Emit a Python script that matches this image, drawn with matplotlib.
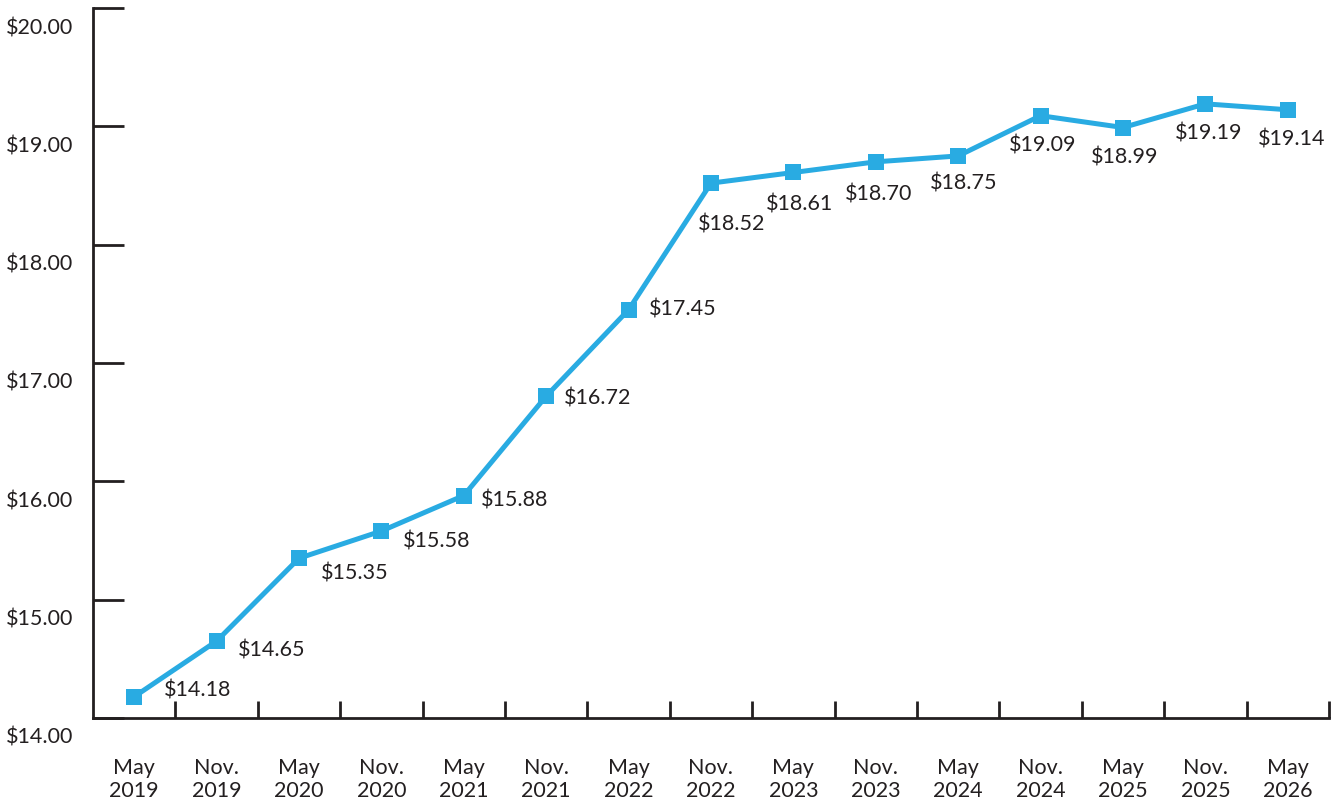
import matplotlib
matplotlib.use("Agg")
import matplotlib.pyplot as plt
import matplotlib.transforms as mtransforms

periods = ["May\n2019", "Nov.\n2019", "May\n2020", "Nov.\n2020", "May\n2021",
           "Nov.\n2021", "May\n2022", "Nov.\n2022", "May\n2023", "Nov.\n2023",
           "May\n2024", "Nov.\n2024", "May\n2025", "Nov.\n2025", "May\n2026"]
wages = [14.18, 14.65, 15.35, 15.58, 15.88, 16.72, 17.45, 18.52, 18.61, 18.70,
         18.75, 19.09, 18.99, 19.19, 19.14]
ytick_vals = [14, 15, 16, 17, 18, 19, 20]
ytick_labels = ["$14.00", "$15.00", "$16.00", "$17.00", "$18.00", "$19.00", "$20.00"]

# label offsets in pixels (dx, dy) and alignment
label_offsets = [(30, 7, 'left'), (21, -8, 'left'), (22, -14, 'left'), (22, -9, 'left'),
                 (17, -4, 'left'), (18, -1, 'left'), (20, 1, 'left'),
                 (21, -40, 'center'), (6, -31, 'center'), (3, -32, 'center'),
                 (5, -27, 'center'), (2, -29, 'center'), (2, -29, 'center'),
                 (3, -29, 'center'), (4, -29, 'center')]

plt.rcParams['font.family'] = ['Lato', 'DejaVu Sans']
TXT = '#231f20'
BLUE = '#29abe2'

fig = plt.figure(figsize=(13.38, 8.04), dpi=100)
ax = fig.add_axes([93/1338, 1 - 719/804, (1329 - 93)/1338, (719 - 9)/804])

xs = [i + 0.5 for i in range(len(wages))]
ax.plot(xs, wages, color=BLUE, lw=3.6, marker='s', markersize=11,
        markeredgewidth=0, markerfacecolor=BLUE, zorder=3, clip_on=False)

for x, v, (dx, dy, ha) in zip(xs, wages, label_offsets):
    ax.annotate(f"${v:.2f}", (x, v), xytext=(dx, dy), textcoords='offset pixels',
                ha=ha, va='center', fontsize=15.5, color=TXT)

ax.set_xlim(0, len(wages))
ax.set_ylim(14, 20)

for side in ['top', 'right']:
    ax.spines[side].set_visible(False)
for side in ['left', 'bottom']:
    ax.spines[side].set_color(TXT)
    ax.spines[side].set_linewidth(2)

ax.set_yticks(ytick_vals)
ax.set_yticklabels(ytick_labels)
ax.tick_params(axis='y', direction='in', length=22, width=2, color=TXT,
               labelsize=15.5, labelcolor=TXT, pad=14)
offset = mtransforms.ScaledTranslation(0, -17/100, fig.dpi_scale_trans)
for lab in ax.get_yticklabels():
    lab.set_transform(lab.get_transform() + offset)

ax.set_xticks(xs)
ax.set_xticklabels(periods, linespacing=1.2)
ax.set_xticks(range(1, len(wages) + 1), minor=True)
ax.tick_params(axis='x', which='major', length=0, labelsize=15.5, labelcolor=TXT, pad=28)
ax.tick_params(axis='x', which='minor', direction='in', length=12, width=2, color=TXT)

fig.savefig('out.png', dpi=100)
